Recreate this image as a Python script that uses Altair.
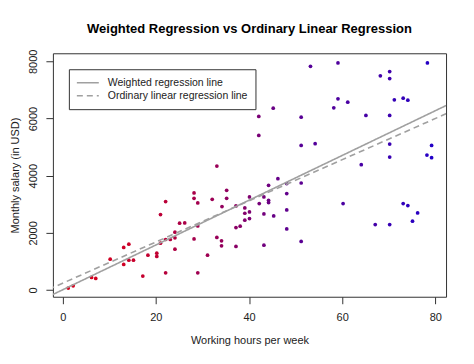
import altair as alt
import pandas as pd

# Working hours per week (x) and monthly salary in USD (y)
hours = [1.2, 2.25, 6.2, 7.1, 10.2, 13.1, 13.1, 14.2, 14.2, 15.2, 17.2, 18.3, 20.2, 20.2,
         21.0, 21.0, 22.1, 22.1, 22.1, 23.1, 24.1, 24.1, 24.1, 25.1,
         26.2, 28.2, 28.2, 29.0, 29.0, 28.2, 29.0, 31.1, 32.1, 33.1, 33.1, 34.1, 34.1, 34.2,
         35.2, 35.2, 37.2, 37.2, 37.2, 38.1, 39.1, 39.1, 39.1, 40.1, 40.1, 40.1, 42.2, 43.2,
         43.2, 43.2, 44.2, 44.2, 44.2, 45.3, 46.2, 48.1, 48.1, 48.1, 48.1, 51.2, 51.2,
         42.1, 42.1, 45.2, 51.2, 51.2, 53.2, 54.2,
         59.1, 59.1, 58.2, 61.2, 65.1, 68.2, 70.2, 70.2, 70.2, 71.2, 73.1, 74.1, 78.3,
         70.2, 70.2, 64.1, 78.2, 79.2, 79.2,
         60.2, 67.1, 70.2, 73.1, 74.1, 76.2, 75.1]
salary = [70, 150, 443, 408, 1082, 897, 1490, 1605, 1047, 1047, 489, 1222, 1291, 1175,
          1640, 2642, 3096, 1769, 605, 1769, 1826, 2024, 1431, 2338,
          2349, 3396, 3211, 3047, 2244, 1790, 605, 1222, 3176, 4338, 1839, 1721, 1546, 2921,
          3490, 3211, 2942, 2188, 1525, 2234, 2872, 2687, 2443, 3256, 2733, 2502, 3025, 3256,
          2663, 1570, 3664, 3141, 3060, 2593, 3898, 3724, 3375, 2803, 2139, 3745, 1700,
          6073, 5410, 6362, 6048, 5060, 7828, 5120,
          7945, 6690, 6376, 6572, 6108, 7493, 7643, 7399, 6108, 6655, 6711, 6641, 7945,
          5106, 4652, 4387, 4722, 5060, 4631,
          3025, 2293, 2293, 3025, 2955, 2699, 2408]

# Regression lines (intercept, slope)
model_names = ["Weighted regression line", "Ordinary linear regression line"]
intercepts = [10, 241]
slopes = [78.3, 72.0]
line_x = [-5, 90]

x_ticks = [0, 20, 40, 60, 80]
y_ticks = [0, 2000, 4000, 6000, 8000]

pts = pd.DataFrame({"hours": hours, "salary": salary})
pts["rank"] = pts["hours"].rank(method="first")

rows = []
for name, a, b in zip(model_names, intercepts, slopes):
    for xv in line_x:
        rows.append({"model": name, "hours": xv, "salary": a + b * xv})
lines = pd.DataFrame(rows)

xscale = alt.Scale(domain=[-2.1, 82.3], nice=False, zero=False)
yscale = alt.Scale(domain=[-234, 8283], nice=False, zero=False)

x_enc = alt.X("hours:Q", scale=xscale, title="Working hours per week",
              axis=alt.Axis(values=x_ticks, format="d"))
y_enc = alt.Y("salary:Q", scale=yscale, title="Monthly salary (in USD)",
              axis=alt.Axis(values=y_ticks, format="d"))

points = alt.Chart(pts).mark_circle(size=14, opacity=1).encode(
    x=x_enc,
    y=y_enc,
    color=alt.Color("rank:Q",
                    scale=alt.Scale(domain=[1, len(hours)], range=["#d8001c", "#2200c8"],
                                    interpolate="rgb"),
                    legend=None),
)

reg = alt.Chart(lines).mark_line(clip=True, color="#a0a0a0", strokeWidth=1.6).encode(
    x=x_enc,
    y=y_enc,
    strokeDash=alt.StrokeDash(
        "model:N",
        scale=alt.Scale(domain=model_names, range=[[1, 0], [6, 4]]),
        legend=alt.Legend(
            title=None, orient="none", legendX=16, legendY=16, direction="vertical",
            symbolType="stroke", symbolSize=484, symbolStrokeWidth=1.6,
            symbolStrokeColor="#a0a0a0", clipHeight=13, rowPadding=0,
            labelFontSize=10.5, labelFont="Liberation Sans", labelColor="#222",
            labelOffset=8, padding=7, strokeColor="#333", fillColor="white",
            cornerRadius=0,
        ),
    ),
)

chart = alt.layer(points, reg).properties(
    width=394,
    height=244,
    autosize=alt.AutoSizeParams(type="none"),
    padding={"left": 45, "top": 45, "right": 20, "bottom": 60},
    title=alt.TitleParams(
        "Weighted Regression vs Ordinary Linear Regression",
        fontSize=13, fontWeight="bold", font="Liberation Sans", color="black",
        anchor="middle", frame="group", offset=13,
    ),
).configure_view(
    stroke="#333", strokeWidth=1
).configure_axis(
    domain=False, grid=False, tickColor="#333", tickSize=7,
    labelFontSize=11, titleFontSize=11, labelFont="Liberation Sans",
    titleFont="Liberation Sans", labelColor="#222", titleColor="#222",
    titleFontWeight="normal", labelFlush=False, labelBound=False, labelOverlap=False,
).configure_axisX(
    labelPadding=8, titlePadding=12
).configure_axisY(
    labelAngle=-90, labelAlign="center", labelBaseline="bottom", labelPadding=7,
    titlePadding=7
)

chart.save("out.html", embed_options={"renderer": "svg", "actions": False})
